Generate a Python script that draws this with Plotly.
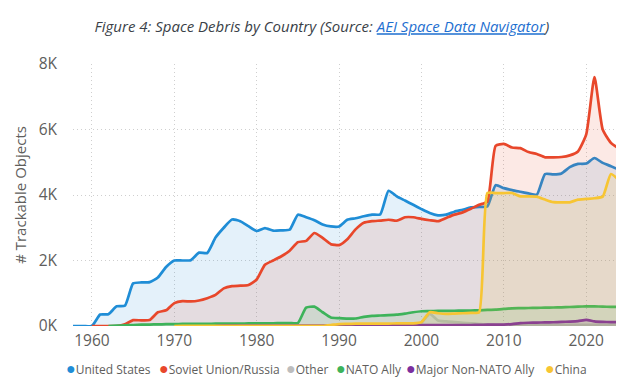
import plotly.graph_objects as go

years = list(range(1957, 2025))

us = [0, 0, 0, 0, 350, 360, 600, 620, 1300, 1330, 1340, 1480, 1800, 2000, 2000, 2010, 2240, 2230,
      2700, 3000, 3250, 3200, 3050, 2900, 2990, 2910, 2920, 2940, 3400, 3320, 3230, 3100, 3040, 3040,
      3245, 3290, 3350, 3400, 3410, 4130, 3960, 3830, 3700, 3570, 3450, 3380, 3400, 3490, 3550, 3620,
      3640, 3650, 4300, 4210, 4150, 4100, 4050, 4010, 4640, 4630, 4660, 4850, 4950, 4960, 5130, 4980,
      4880, 4770]

russia = [None, None, None, 0, 0, 0, 0, 50, 180, 170, 180, 420, 480, 700, 760, 750, 780, 850,
          950, 1150, 1220, 1230, 1250, 1420, 1870, 2000, 2130, 2300, 2560, 2600, 2840, 2690, 2500, 2470,
          2650, 2950, 3150, 3200, 3220, 3245, 3215, 3320, 3320, 3270, 3230, 3200, 3300, 3400, 3470, 3580,
          3700, 3800, 5500, 5560, 5450, 5430, 5310, 5250, 5150, 5150, 5160, 5210, 5330, 5850, 7600, 6000,
          5590, 5410]

other = [None] * 42 + [0, 100, 370, 170, 140, 120, 100, 80, 60, 40, 35, 35, 35, 35, 35, 35, 35, 35,
                       35, 35, 35, 35, 35, 35, 35, 35]

nato = [None, None, None, None, None, 0, 10, 20, 30, 40, 45, 50, 55, 60, 62, 64, 66, 68,
        70, 72, 74, 76, 78, 80, 82, 84, 86, 88, 90, 560, 590, 420, 260, 240,
        225, 230, 280, 310, 320, 330, 345, 380, 420, 450, 455, 460, 460, 465, 470, 470,
        480, 490, 500, 520, 540, 545, 550, 555, 560, 565, 570, 580, 590, 600, 600, 590,
        585, 580]

major = [None] * 18 + [0, 10, 10, 10, 10, 10, 10, 10, 10, 10, 10, 15, 15, 15, 15, 20,
                       20, 20, 20, 20, 20, 20, 20, 20, 20, 25, 25, 25, 25, 25, 25, 30,
                       35, 40, 40, 45, 60, 90, 100, 105, 110, 115, 125, 135, 150, 190, 140, 125,
                       120, 120]

china = [None] * 13 + [0, 5, 5, 5, 5, 5, 5, 5, 5, 5, 5, 5, 5, 5, 5, 5, 5, 5, 5, 30, 60,
                       65, 70, 70, 75, 75, 75, 78, 80, 80, 120, 420, 390, 370, 380, 390, 400, 420,
                       4060, 4060, 4060, 4060, 3960, 3960, 3950, 3860, 3780, 3775, 3775, 3860, 3880, 3900,
                       3950, 4640, 4450, 4300]

names = ["United States", "Soviet Union/Russia", "Other", "NATO Ally", "Major Non-NATO Ally", "China"]
series = [us, russia, other, nato, major, china]
colors = ["#1F8DD6", "#E8472B", "#BDBDBD", "#3DB35A", "#7B2F9E", "#F7C533"]

tick_vals = [0, 2000, 4000, 6000, 8000]
tick_text = ["0K", "2K", "4K", "6K", "8K"]
x_ticks = [1960, 1970, 1980, 1990, 2000, 2010, 2020]


def rgba(hexc, a):
    h = hexc.lstrip("#")
    r, g, b = int(h[0:2], 16), int(h[2:4], 16), int(h[4:6], 16)
    return f"rgba({r},{g},{b},{a})"


fig = go.Figure()
for name, vals, c in zip(names, series, colors):
    fig.add_trace(go.Scatter(
        x=years, y=vals, name=name, mode="lines",
        line=dict(color=c, width=2.7, shape="spline", smoothing=0.5),
        fill="tozeroy", fillcolor=rgba(c, 0.12),
        showlegend=False, connectgaps=False,
    ))

font_family = "Open Sans, Noto Sans, sans-serif"
grey_text = "#605E5C"

W, H = 624, 381
ml, mr, mt, mb = 63, 12, 56, 63
plot_w = W - ml - mr

# manual legend (dot + label), left px position of each entry
legend_px = [54, 147, 275, 325, 395, 535]
annotations = []
for name, c, px in zip(names, colors, legend_px):
    annotations.append(dict(
        xref="paper", yref="paper",
        x=(px - ml) / plot_w, y=-(360 - (H - mb)) / (H - mt - mb),
        xanchor="left", yanchor="middle", showarrow=False,
        text=f'<span style="color:{c};font-size:16px">●</span>{name}',
        font=dict(family=font_family, size=12, color=grey_text),
    ))

fig.update_layout(
    width=W, height=H,
    margin=dict(l=ml, r=mr, t=mt, b=mb),
    paper_bgcolor="white", plot_bgcolor="white",
    title=dict(
        text='<i>Figure 4: Space Debris by Country (Source: '
             '<a href="https://www.aei.org/spacedata/" style="color:#1E6FD0"><u>AEI Space Data Navigator</u></a>)</i>',
        x=0.503, xanchor="center", y=1 - 19 / H, yanchor="middle",
        font=dict(family=font_family, size=15, color="#3A3F48"),
    ),
    showlegend=False,
    annotations=annotations,
    xaxis=dict(
        range=[1957.7, 2024.1], tickvals=x_ticks, showline=False, zeroline=False,
        showgrid=True, gridcolor="#CFCFCF", griddash="1px,3px", gridwidth=1,
        tickfont=dict(family=font_family, size=15.5, color=grey_text),
        ticklabelstandoff=3,
    ),
    yaxis=dict(
        range=[0, 8000], tickvals=tick_vals, ticktext=tick_text, showline=False, zeroline=False,
        showgrid=True, gridcolor="#CFCFCF", griddash="1px,3px", gridwidth=1,
        tickfont=dict(family=font_family, size=15.5, color=grey_text),
        ticklabelstandoff=15,
        title=dict(text="# Trackable Objects", standoff=8,
                   font=dict(family=font_family, size=15, color=grey_text)),
    ),
)

fig.write_html("out.html")
